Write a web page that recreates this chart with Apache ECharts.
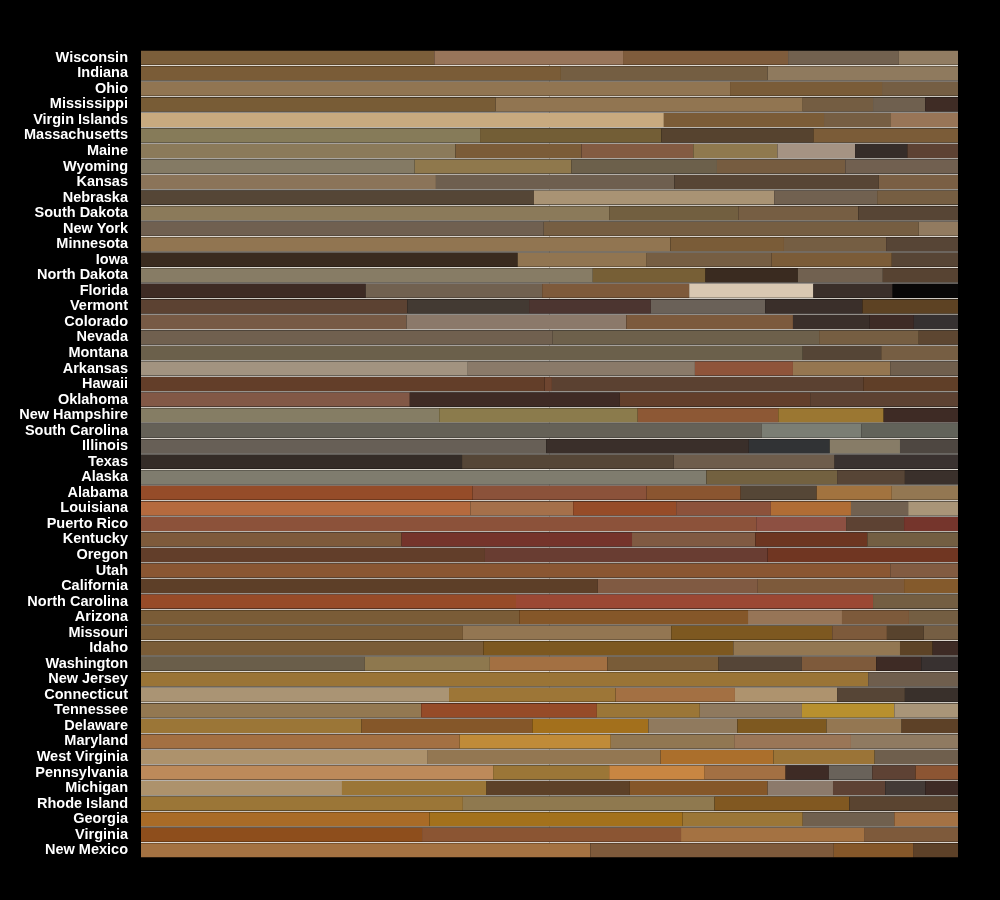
<!DOCTYPE html>
<html>
<head>
<meta charset="utf-8">
<script src="https://cdn.jsdelivr.net/npm/echarts@6/dist/echarts.min.js"></script>
<style>html,body{margin:0;padding:0;background:#000;}#c{width:1000px;height:900px;}</style>
</head>
<body>
<div id="c"></div>
<script>
const states = ["Wisconsin","Indiana","Ohio","Mississippi","Virgin Islands","Massachusetts","Maine","Wyoming","Kansas","Nebraska","South Dakota","New York","Minnesota","Iowa","North Dakota","Florida","Vermont","Colorado","Nevada","Montana","Arkansas","Hawaii","Oklahoma","New Hampshire","South Carolina","Illinois","Texas","Alaska","Alabama","Louisiana","Puerto Rico","Kentucky","Oregon","Utah","California","North Carolina","Arizona","Missouri","Idaho","Washington","New Jersey","Connecticut","Tennessee","Delaware","Maryland","West Virginia","Pennsylvania","Michigan","Rhode Island","Georgia","Virginia","New Mexico"];

const shares = [
  [35.9,23.1,20.2,13.5,7.3],
  [51.4,25.3,23.3],
  [72.1,18.6,9.3],
  [43.4,37.6,8.6,6.4,4.0],
  [64.0,19.6,8.2,8.2],
  [41.5,22.2,18.6,17.7],
  [38.5,15.4,13.7,10.3,9.5,6.4,6.2],
  [33.5,19.2,17.8,15.7,13.8],
  [36.1,29.2,25.0,9.7],
  [48.1,29.4,12.6,9.9],
  [57.3,15.8,14.7,12.2],
  [49.3,45.9,4.8],
  [64.8,13.9,12.5,8.8],
  [46.1,15.8,15.3,14.7,8.1],
  [55.3,13.8,11.3,10.4,9.2],
  [27.5,21.6,18.0,15.2,9.7,8.0],
  [32.6,14.9,14.9,14.0,11.9,11.7],
  [32.5,26.9,20.4,9.4,5.4,5.4],
  [50.4,32.6,12.2,4.8],
  [81.0,9.6,9.4],
  [40.0,27.8,12.0,11.9,8.3],
  [49.4,0.9,38.1,11.6],
  [32.9,25.7,23.3,18.1],
  [36.5,24.3,17.2,12.9,9.1],
  [76.0,12.2,11.8],
  [49.6,24.8,9.9,8.6,7.1],
  [39.3,25.9,19.7,15.1],
  [69.2,16.0,8.3,6.5],
  [40.6,21.3,11.5,9.3,9.2,8.1],
  [40.3,12.6,12.6,11.6,9.8,7.0,6.1],
  [75.3,11.0,7.1,6.6],
  [31.9,28.2,15.1,13.7,11.1],
  [42.1,34.6,23.3],
  [91.7,8.3],
  [55.9,19.6,17.9,6.6],
  [45.9,43.7,10.4],
  [46.3,28.0,11.5,8.2,6.0],
  [39.4,25.5,19.7,6.7,4.5,4.2],
  [41.9,30.6,20.4,4.0,3.1],
  [27.4,15.3,14.4,13.6,10.2,9.1,5.5,4.5],
  [89.0,11.0],
  [37.7,20.4,14.6,12.5,8.3,6.5],
  [34.3,21.5,12.6,12.5,11.3,7.8],
  [27.0,20.9,14.2,10.9,10.9,9.2,6.9],
  [39.0,18.5,15.1,14.3,13.1],
  [35.1,28.5,13.8,12.4,10.2],
  [43.1,14.2,11.7,9.9,5.3,5.3,5.3,5.2],
  [24.6,17.7,17.5,16.9,8.0,6.4,4.9,4.0],
  [39.4,30.8,16.5,13.3],
  [35.3,31.0,14.7,11.2,7.8],
  [34.4,31.7,22.4,11.5],
  [55.0,29.8,9.7,5.5]
];

const colors = [
  ["#7b5e3a","#98755a","#7f5c3c","#72614f","#917c62"],
  ["#7a5c37","#745e42","#8f7a5e"],
  ["#917552","#7a5c38","#755e43"],
  ["#785c36","#917551","#745d42","#6f604f","#3f2c25"],
  ["#c8aa7f","#7b5c37","#765e43","#987557"],
  ["#867b59","#735e36","#56432f","#7b5c38"],
  ["#8b7a5a","#7b5c38","#835b42","#8f794e","#a59383","#362d29","#5d4233"],
  ["#847a64","#8f784c","#6c604b","#765c40","#716050"],
  ["#8b7459","#6e5f4f","#574535","#7a5f44"],
  ["#554636","#a99374","#716150","#765e42"],
  ["#8b7a5a","#725f40","#765e43","#574535"],
  ["#706050","#765e42","#927b60"],
  ["#917551","#7a5c38","#755e43","#574536"],
  ["#3a2b1f","#917551","#765e43","#7b5c38","#574535"],
  ["#877c65","#775f36","#3a2b20","#716150","#574332"],
  ["#3e2b24","#716150","#7e5a3b","#d9c8b2","#3a2f2a","#080707"],
  ["#5c4232","#433a33","#4c3530","#6a6158","#3a2f2a","#5d4223"],
  ["#775a45","#8b796a","#7c5a3d","#3a2f2a","#3e2b26","#363131"],
  ["#70604f","#6d604b","#765e42","#5d4631"],
  ["#6b604b","#554536","#765e43"],
  ["#a29380","#8a7a69","#8f543a","#957650","#705f4d"],
  ["#633e29","#6e4530","#5b4131","#603f28"],
  ["#825846","#3f2b25","#633f2b","#5d4232"],
  ["#857d64","#8b7b4c","#8d5835","#9b7732","#3e2b25"],
  ["#656157","#7b7e74","#62635a"],
  ["#675f56","#3a2f2a","#313335","#877c67","#4e4741"],
  ["#342c27","#554637","#6e5d4c","#3a3230"],
  ["#7f7c6e","#736140","#574536","#3a302b"],
  ["#954c29","#8b523a","#8a5530","#554636","#a2733f","#937752"],
  ["#b56a3e","#a5704a","#964c28","#8c523b","#b06d35","#726150","#a99578"],
  ["#8c523a","#8d5042","#5d4233","#75352c"],
  ["#7e5a3b","#75342b","#805a42","#6d3621","#735e42"],
  ["#623e2a","#693d32","#703622"],
  ["#8a5632","#825b41"],
  ["#5d3f28","#805a42","#7d5a3b","#845a2c"],
  ["#974b28","#9b4834","#745e42"],
  ["#7a5c37","#855729","#977557","#7d5a3b","#745e42"],
  ["#7a5c37","#937652","#7d5820","#7d5a3b","#58432d","#755e43"],
  ["#7a5c37","#7d5820","#937752","#5d4326","#3e2b25"],
  ["#6a5e4a","#8e784e","#a37042","#795c38","#554537","#7e5a3b","#3e2b25","#383130"],
  ["#9a7436","#6f5e4d"],
  ["#aa9474","#9d7637","#a37043","#ae936e","#564536","#39302b"],
  ["#937851","#964b28","#9b7637","#8f795e","#b8902e","#a99578"],
  ["#9b7637","#855729","#a3701c","#907a5e","#7e5920","#947752","#5d4127"],
  ["#a37042","#c08b38","#917752","#9a7657","#8f7a61"],
  ["#ad926c","#937752","#ab6f2c","#9b7437","#6f5f4d"],
  ["#bd8a5a","#9b7637","#c88642","#a37043","#3e2b25","#69625a","#5e4234","#8c5533"],
  ["#ad926c","#9b7637","#5d4128","#855729","#8c7a6b","#5e4234","#433a36","#3e2b25"],
  ["#9b7637","#8f794f","#815821","#5a4430"],
  ["#a96b27","#a3711c","#9b7637","#70604e","#a47244"],
  ["#8e4e1c","#8b5533","#a47242","#7e5a3b"],
  ["#a47242","#7e5a3b","#855729","#5d4128"]
];

const maxSeg = Math.max(...shares.map(s => s.length));
const series = [];

// thin light separators between rows, placed on the category band edges
series.push({
  type: 'custom',
  silent: true,
  z: 1,
  data: states.slice(1).map((s, i) => [0, i + 1]),
  encode: { x: 0, y: 1 },
  renderItem: function (params, api) {
    const c = api.coord([0, api.value(1)]);
    const band = api.size([0, 1])[1];
    const y = c[1] - band / 2;
    const cs = params.coordSys;
    return {
      type: 'line',
      shape: { x1: cs.x, y1: y, x2: cs.x + cs.width, y2: y },
      style: { stroke: '#e6e0d8', lineWidth: 1 }
    };
  }
});

for (let k = 0; k < maxSeg; k++) {
  series.push({
    type: 'bar',
    stack: 'total',
    barCategoryGap: '10%',
    silent: true,
    z: 2,
    data: states.map((s, i) => k < shares[i].length
      ? { value: shares[i][k], itemStyle: { color: colors[i][k] } }
      : { value: 0, itemStyle: { opacity: 0 } })
  });
}

const chart = echarts.init(document.getElementById('c'), null, { renderer: 'canvas' });
chart.setOption({
  backgroundColor: '#000',
  animation: false,
  grid: { left: 141, right: 42, top: 50, bottom: 42, containLabel: false },
  xAxis: {
    type: 'value', min: 0, max: 100, show: false,
    splitLine: { show: false }, axisLine: { show: false }, axisTick: { show: false }, axisLabel: { show: false }
  },
  yAxis: {
    type: 'category',
    inverse: true,
    data: states,
    axisLine: { show: false },
    axisTick: { show: false },
    splitLine: { show: false },
    axisLabel: {
      interval: 0,
      color: '#ffffff',
      fontWeight: 'bold',
      fontSize: 14.5,
      fontFamily: 'Liberation Sans, Arial, sans-serif',
      margin: 13,
      padding: [3, 0, 0, 0]
    }
  },
  series: series
});
</script>
</body>
</html>
